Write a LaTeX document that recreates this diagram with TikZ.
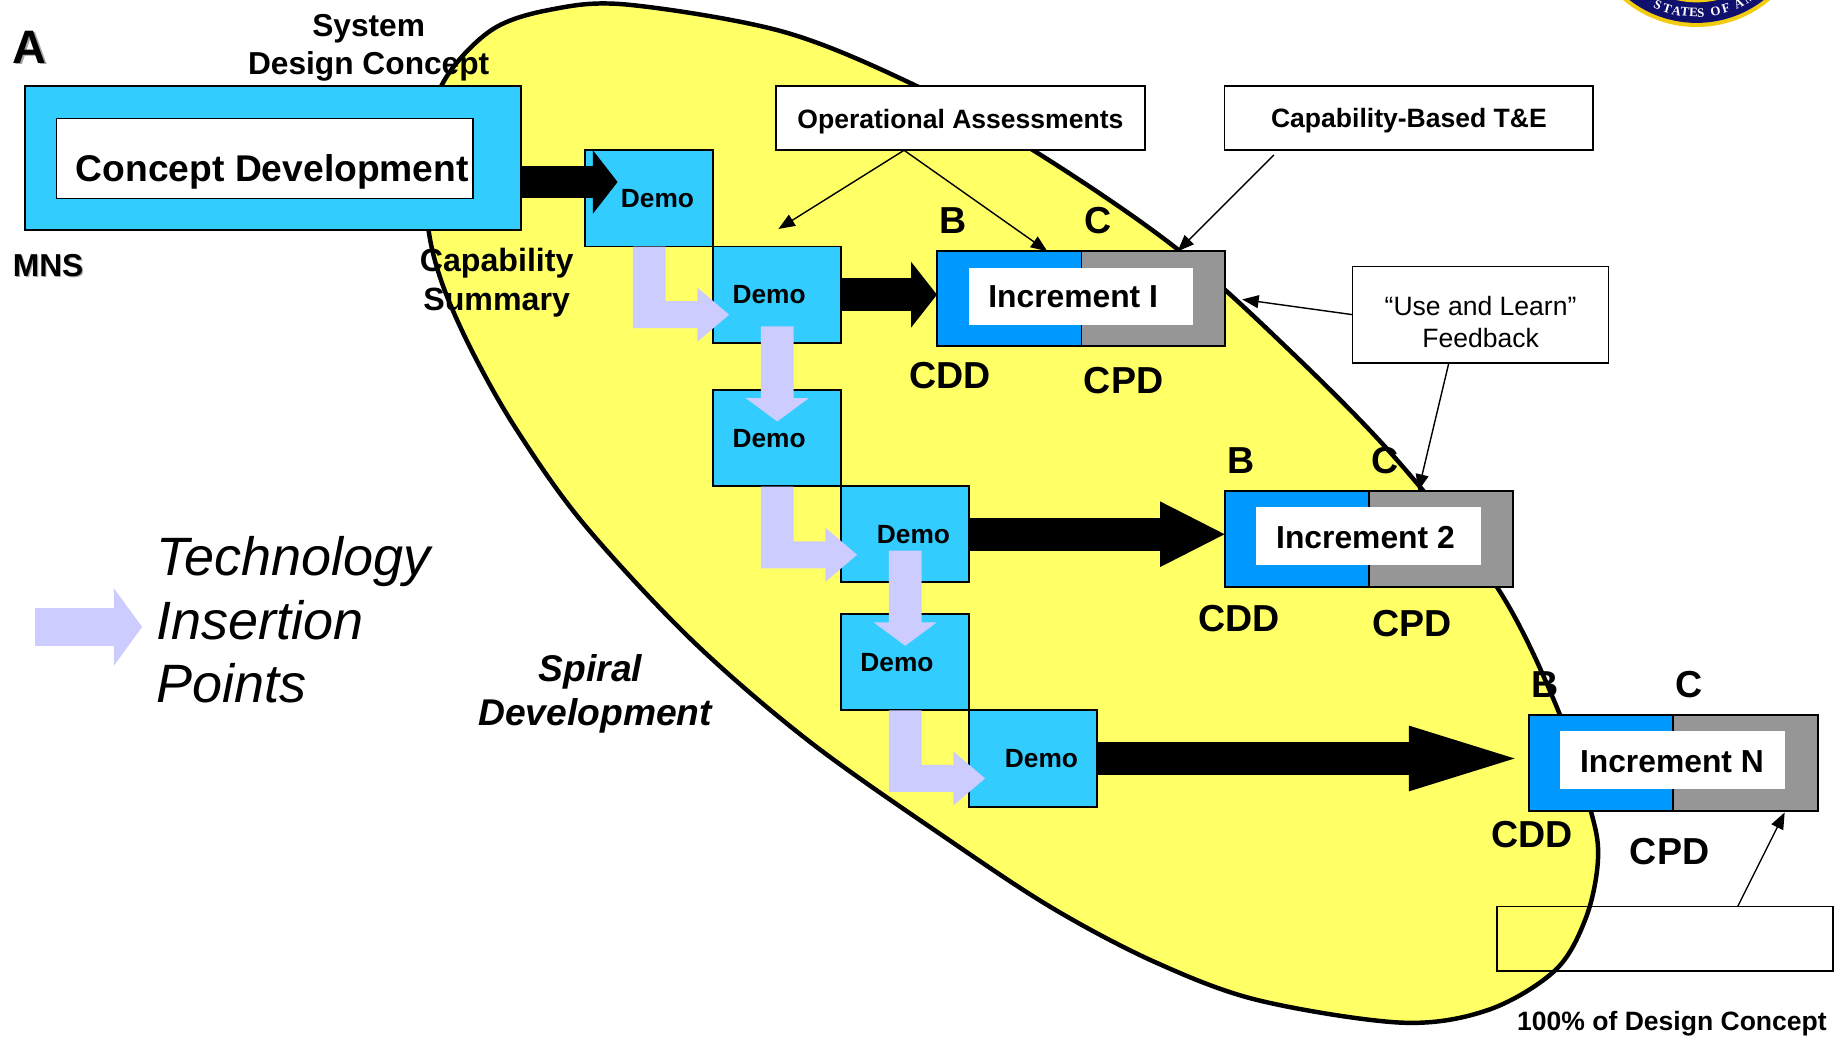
\documentclass[tikz,border=0pt]{standalone}
\usepackage{fontspec}
\setmainfont{Liberation Sans}
\newfontfamily\sealfont{Liberation Serif}
\usetikzlibrary{arrows.meta}
\newcommand\fsz[1]{\pgfmathsetmacro\myfs{#1*0.5}\fontsize{\myfs pt}{\myfs pt}\selectfont}
\definecolor{demoblue}{HTML}{33CCFF}
\definecolor{cddblue}{HTML}{0099FF}
\definecolor{cpdgrey}{HTML}{969696}
\definecolor{lilac}{HTML}{CCCCFF}
\definecolor{blobyellow}{HTML}{FFFF66}
\definecolor{sealgold}{HTML}{F2CC10}
\definecolor{sealnavy}{HTML}{10106E}
\definecolor{sealsky}{HTML}{3FA8D8}
% \bx{name}{style}{x1}{y1}{x2}{y2}
\newcommand\bx[6]{%
  \pgfmathsetmacro\bw{(#5-#3)*0.5}\pgfmathsetmacro\bh{(#6-#4)*0.5}%
  \node[#2,minimum width=\bw pt,minimum height=\bh pt] (#1) at ({(#3+#5)/2},{(#4+#6)/2}) {};}
% \blackarrow{from}{tip}{head length in units}{half width in units}
\newcommand\blackarrow[4]{%
  \pgfmathsetmacro\hl{#3*0.5}%
  \draw[draw=black,line width=14pt,shorten >=\hl pt] (#1) -- (#2);
  \fill[black] (#2) -- ++(-#3,-#4) -- ++(0,{2*#4}) -- cycle;}
\tikzset{
  rectbase/.style={rectangle,inner sep=0pt,outer sep=0pt},
  demobox/.style={rectbase,draw=black,line width=0.75pt,fill=demoblue},
  callout/.style={rectbase,draw=black,line width=0.7pt,fill=white},
  whitein/.style={rectbase,fill=white},
  whiteline/.style={rectbase,fill=white,draw=black,line width=0.7pt},
  cdd/.style={rectbase,fill=cddblue},
  cpd/.style={rectbase,fill=cpdgrey},
  frame/.style={rectbase,draw=black,line width=0.85pt},
  lbl/.style={inner sep=0pt,font=\bfseries,align=center},
  demotxt/.style={lbl,font=\bfseries\fsz{22.4}},
  inctxt/.style={lbl,font=\bfseries\fsz{27.1}},
  big/.style={lbl,font=\bfseries\fsz{32}},
  callouttxt/.style={lbl,font=\bfseries\fsz{22.6}},
  thinarrow/.style={draw=black,line width=0.6pt,-{Triangle[length=7pt,width=5.5pt,fill=black]}},
  blob/.style={draw=black,line width=1.9pt,fill=blobyellow}
}
\begin{document}
\begin{tikzpicture}[x=0.5pt,y=-0.5pt]
\clip (0,0) rectangle (1568,884);
% seal
\fill[sealgold] (1445,-74) circle[radius=97];
\fill[sealnavy] (1445,-74) circle[radius=93.5];
\fill[sealgold] (1445,-74) circle[radius=76];
\fill[sealsky] (1445,-74) circle[radius=74];
\foreach \ch/\dx in {S/-33,T/-25,A/-17,T/-10,E/-2.5,S/3.5,O/16,F/25,A/36,M/45}{
  \pgfmathsetmacro\ang{asin(\dx/85)}
  \node[inner sep=0pt,text=white,font=\sealfont\bfseries\fsz{11},rotate=\ang] at ({1445+85*sin(\ang)},{-74+85*cos(\ang)}) {\ch};
}
% spiral blob
\draw[blob] plot[smooth cycle,tension=0.55] coordinates {
 (535,4) (667,27) (778,72) (880,128) (1000,210) (1100,300) (1190,392) (1275,500) (1325,600)
 (1355,691) (1361,732) (1351,781) (1325,826) (1268,860) (1194,871) (1072,852) (985,820) (899,775)
 (812,718) (690,632) (589,545) (497,446) (440,366) (403,301) (377.5,244) (365,196)
 (362,135) (376.5,72) (418,26) (470,8)};
% concept box
\bx{concept}{demobox}{21}{73}{444}{196}
\bx{conceptin}{whiteline}{48}{101}{403}{169}
% demo boxes
\bx{demoA}{demobox}{498}{128}{607}{210}
\bx{demoB}{demobox}{607}{210}{716}{292}
\bx{demoC}{demobox}{607}{332}{716}{414}
\bx{demoD}{demobox}{716}{414}{825}{496}
\bx{demoE}{demobox}{716}{523}{825}{605}
\bx{demoF}{demobox}{825}{605}{934}{687}
% increments
\bx{incAl}{cdd}{798}{214}{921}{295}
\bx{incAr}{cpd}{921}{214}{1043}{295}
\bx{incA}{frame}{798}{214}{1043}{295}
\draw[line width=0.7pt] (incAl.north east) -- (incAl.south east);
\bx{incAin}{whitein}{825}{228}{1016}{277}
\bx{incBl}{cdd}{1043}{418}{1166}{500}
\bx{incBr}{cpd}{1166}{418}{1289}{500}
\bx{incB}{frame}{1043}{418}{1289}{500}
\draw[line width=0.7pt] (incBl.north east) -- (incBl.south east);
\bx{incBin}{whitein}{1070}{432}{1261}{481}
\bx{incNl}{cdd}{1302}{609}{1425}{691}
\bx{incNr}{cpd}{1425}{609}{1548}{691}
\bx{incN}{frame}{1302}{609}{1548}{691}
\draw[line width=0.7pt] (incNl.north east) -- (incNl.south east);
\bx{incNin}{whitein}{1329}{623}{1520}{672}
% callouts
\bx{opa}{callout}{661}{73}{975}{128}
\bx{cap}{callout}{1043}{73}{1357}{128}
\bx{use}{callout}{1152}{227}{1370}{309}
\bx{empty}{rectbase,draw=black,line width=0.7pt}{1275}{772}{1561}{827}
% black arrows
\coordinate (tipA) at (526,155);
\coordinate (tipB) at (incA.west |- demoB.east);
\coordinate (tipC) at (incB.west |- demoD.east);
\coordinate (tipD) at (1290,646);
\blackarrow{concept.east |- tipA}{tipA}{21}{27}
\blackarrow{demoB.east}{tipB}{22}{28}
\blackarrow{demoD.east}{tipC}{55}{28}
\blackarrow{demoF.east}{tipD}{90}{28}
% lilac arrows
\coordinate (bA) at (539,210);
\coordinate (bB) at (648,414.5);
\coordinate (bC) at (757,605);
\coordinate (dA) at (662,278);
\coordinate (dB) at (771,469);
\coordinate (legA) at (30,534);
\foreach \o in {bA,bB,bC}{
  \fill[lilac,shift={(\o)}] (0,0) -- (28,0) -- (28,46.5) -- (55,46.5) -- (55,35) -- (82,58)
    -- (55,81) -- (55,69.5) -- (0,69.5) -- cycle;
}
\foreach \o in {dA,dB}{
  \fill[lilac,shift={(\o)}] (-14,0) -- (14,0) -- (14,61) -- (27,61) -- (0,81) -- (-27,61) -- (-14,61) -- cycle;
}
\fill[lilac,shift={(legA)}] (0,-16) -- (67,-16) -- (67,-33) -- (91,0) -- (67,33) -- (67,16) -- (0,16) -- cycle;
% thin connectors
\coordinate (opaport) at (770,128);
\coordinate (demoaim) at (663,195);
\coordinate (incAaimL) at (892,214);
\coordinate (capport) at (1085,132);
\coordinate (capaim) at (1003,214);
\coordinate (useportL) at (1152,268);
\coordinate (usefree) at (1058,255);
\coordinate (useportB) at (1234,309);
\coordinate (incBaim) at (1208,418);
\coordinate (emptyport) at (1480,772);
\coordinate (incNaim) at (1520,692);
\draw[thinarrow] (opaport) -- (demoaim);
\draw[thinarrow] (opaport) -- (incAaimL);
\draw[thinarrow] (capport) -- (capaim);
\draw[thinarrow] (useportL) -- (usefree);
\draw[thinarrow] (useportB) -- (incBaim);
\draw[thinarrow] (emptyport) -- (incNaim);
% texts
\node[lbl,font=\bfseries\fsz{40},text=black!35] (Ashadow) at (26.5,41.5) {A};
\node[lbl,font=\bfseries\fsz{40}] (Alabel) at (25,40) {A};
\node[lbl,font=\bfseries\fsz{27}] (sys) at (314,40.5) {System\\[2.5pt]Design Concept};
\node[lbl,font=\bfseries\fsz{27},text=black!35] (mnsshadow) at (42,227) {MNS};
\node[lbl,font=\bfseries\fsz{27}] (mns) at (41,226) {MNS};
\node[lbl,font=\bfseries\fsz{27.4}] (capsum) at (423,240.5) {Capability\\[2.8pt]Summary};
\node[lbl,font=\bfseries\fsz{31.7}] (conctxt) at (232,146) {Concept Development};
\node[demotxt] (d1) at (560,169) {Demo};
\node[demotxt] (d2) at (655,251) {Demo};
\node[demotxt] (d3) at (655,373.5) {Demo};
\node[demotxt] (d4) at (778,455) {Demo};
\node[demotxt] (d5) at (764,564) {Demo};
\node[demotxt] (d6) at (887,646) {Demo};
\node[inctxt] (t1) at (914,253) {Increment I};
\node[inctxt] (t2) at (1163,458) {Increment 2};
\node[inctxt] (t3) at (1424,649) {Increment N};
\foreach \n/\x/\y/\s in {b1/812/188/B,c1/935/188/C,cd1/809/320/CDD,cp1/957/324/CPD,
  b2/1057/392/B,c2/1180/392/C,cd2/1055/527/CDD,cp2/1203/531/CPD,
  b3/1316/583/B,c3/1439/583/C,cd3/1305/711/CDD,cp3/1422/725/CPD}{
  \node[big] (\n) at (\x,\y) {\s};
}
\node[callouttxt] (opat) at (818,104) {Operational Assessments};
\node[callouttxt] (capt) at (1200,103) {Capability-Based T\&E};
\node[lbl,font=\fsz{22.6}] (uset) at (1261,274) {“Use and Learn”\\[2.2pt]Feedback};
\node[callouttxt] (hund) at (1424,872) {100\% of Design Concept};
\node[lbl,font=\bfseries\itshape\fsz{31.7}] (spir) at (507,591) {\hspace*{-4pt}Spiral\\[2.65pt]Development};
\node[anchor=west,inner sep=0pt,align=left,font=\itshape\fsz{46}] (tech) at (133,528) {Technology\\[4pt]Insertion\\[4pt]Points};
\end{tikzpicture}
\end{document}
